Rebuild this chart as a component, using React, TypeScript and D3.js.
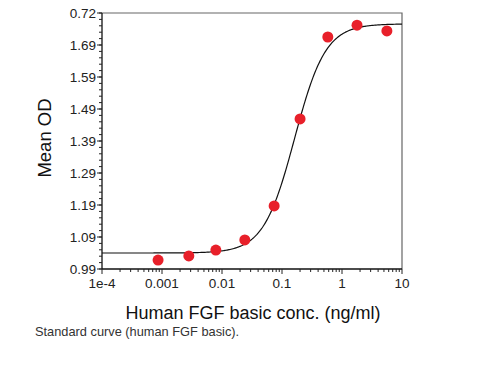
import React from "react";
import * as d3 from "d3";

// measured points (conc in ng/ml, mean OD)
const concentrations = [0.00086, 0.0028, 0.0079, 0.024, 0.074, 0.2, 0.58, 1.78, 5.6];
const meanOD = [1.018, 1.031, 1.049, 1.081, 1.187, 1.459, 1.715, 1.752, 1.734];

// 4PL fit shown as the line
const fitBottom = 1.04;
const fitTop = 1.756;
const fitEC50 = 0.162;
const fitHill = 1.68;

const xTickValues = [1e-4, 0.001, 0.01, 0.1, 1, 10];
const xTickLabels = ["1e-4", "0.001", "0.01", "0.1", "1", "10"];
const yTickValues = [0.99, 1.09, 1.19, 1.29, 1.39, 1.49, 1.59, 1.69, 1.79];
const yTickLabels = ["0.99", "1.09", "1.19", "1.29", "1.39", "1.49", "1.59", "1.69", "0.72"];

const W = 504;
const H = 367;
const font = "'Liberation Sans', Arial, sans-serif";

export default function App() {
  const left = 102, right = 402, top = 13, bottom = 269;
  const x = d3.scaleLog().domain([1e-4, 10]).range([left, right]);
  const y = d3.scaleLinear().domain([0.99, 1.79]).range([bottom, top]);

  const fit = (c: number) => fitBottom + (fitTop - fitBottom) / (1 + Math.pow(fitEC50 / c, fitHill));
  const curvePts: [number, number][] = d3.range(0, 301).map(i => {
    const c = Math.pow(10, -4 + (5 * i) / 300);
    return [x(c), y(fit(c))];
  });
  const line = d3.line()(curvePts) || "";

  // log minor ticks
  const xMinor: number[] = [];
  for (let e = -4; e < 1; e++) for (let m = 2; m <= 9; m++) xMinor.push(m * Math.pow(10, e));
  const yMinor = d3.range(0, 41).map(i => 0.99 + i * 0.02);

  return (
    <div style={{ position: "fixed", left: 0, top: 0, width: W, height: H, background: "#fff" }}>
      <svg width={W} height={H} style={{ display: "block" }}>
        {/* frame */}
        <path d={`M${left},${top}H${right}V${bottom}`} fill="none" stroke="#666" strokeWidth={1.2} />
        <line x1={left} x2={right} y1={bottom} y2={bottom} stroke="#111" strokeWidth={1.3} />
        <line x1={left} x2={left} y1={top} y2={bottom} stroke="#111" strokeWidth={1.3} />

        {/* x ticks */}
        {xMinor.map((v, i) => (
          <line key={"xm" + i} x1={x(v)} x2={x(v)} y1={bottom} y2={bottom + 3} stroke="#222" strokeWidth={1} />
        ))}
        {xTickValues.map((v, i) => (
          <g key={"xt" + i}>
            <line x1={x(v)} x2={x(v)} y1={bottom} y2={bottom + 5} stroke="#222" strokeWidth={1} />
            <text x={x(v)} y={bottom + 19} textAnchor="middle" fontFamily={font} fontSize={13.5} fill="#222">
              {xTickLabels[i]}
            </text>
          </g>
        ))}

        {/* y ticks */}
        {yMinor.map((v, i) => (
          <line key={"ym" + i} x1={left - 3} x2={left} y1={y(v)} y2={y(v)} stroke="#222" strokeWidth={1} />
        ))}
        {yTickValues.map((v, i) => (
          <g key={"yt" + i}>
            <line x1={left - 5} x2={left} y1={y(v)} y2={y(v)} stroke="#222" strokeWidth={1} />
            <text x={left - 6} y={y(v) + 4.5} textAnchor="end" fontFamily={font} fontSize={13.5} fill="#222">
              {yTickLabels[i]}
            </text>
          </g>
        ))}

        {/* fitted curve */}
        <path d={line} fill="none" stroke="#111" strokeWidth={1.2} />

        {/* points */}
        {concentrations.map((c, i) => (
          <circle key={"p" + i} cx={x(c)} cy={y(meanOD[i])} r={5.5} fill="#e8202a" />
        ))}

        {/* titles */}
        <text x={253} y={319} textAnchor="middle" fontFamily={font} fontSize={18} fill="#111">
          Human FGF basic conc. (ng/ml)
        </text>
        <text transform={`translate(51,138) rotate(-90)`} textAnchor="middle" fontFamily={font} fontSize={18.5} fill="#111">
          Mean OD
        </text>
        <text x={35} y={336} fontFamily={font} fontSize={12.8} fill="#333">
          Standard curve (human FGF basic).
        </text>
      </svg>
    </div>
  );
}
